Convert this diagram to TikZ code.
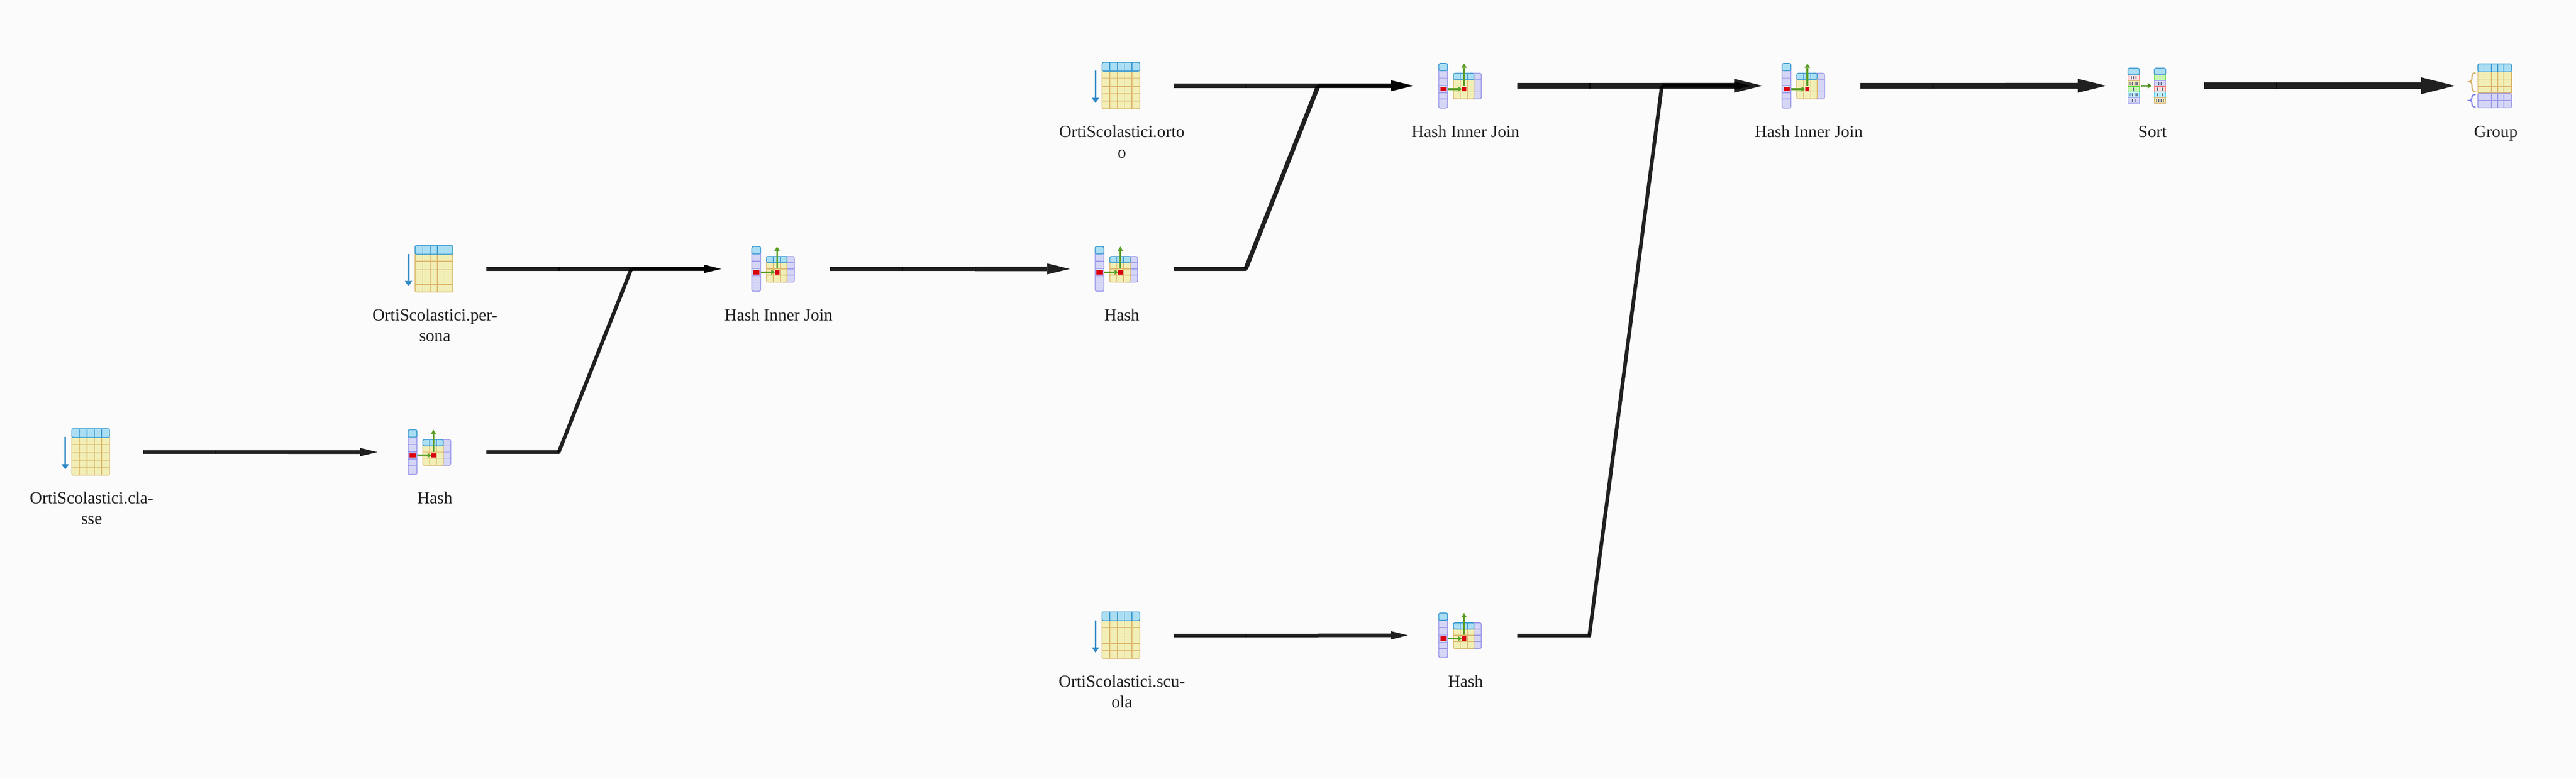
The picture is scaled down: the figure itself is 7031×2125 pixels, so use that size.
\documentclass[tikz,border=0pt]{standalone}
\usepackage{fontspec}
\setmainfont{Liberation Serif}
\usetikzlibrary{%
  arrows.meta,%
  calc,%
  positioning%
}
\definecolor{pagebg}{HTML}{FBFBFB}
\definecolor{labeltext}{HTML}{222222}
\definecolor{headF}{HTML}{ABDEF3}
\definecolor{headD}{HTML}{3C9AD0}
\definecolor{bodyF}{HTML}{F1EEB6}
\definecolor{bodyD}{HTML}{DDB76C}
\definecolor{violetF}{HTML}{D5D5F6}
\definecolor{violetD}{HTML}{9A9AEA}
\definecolor{pinkF}{HTML}{FFDCDC}
\definecolor{pinkD}{HTML}{FF6F6F}
\definecolor{sandF}{HTML}{E9DDB4}
\definecolor{sandD}{HTML}{D2AE62}
\definecolor{limeF}{HTML}{C8F5B4}
\definecolor{limeD}{HTML}{5ADC38}
\definecolor{skyF}{HTML}{BCEEFF}
\definecolor{skyD}{HTML}{36CCFF}
\definecolor{scanarrow}{HTML}{2B87C4}
\definecolor{probearrow}{HTML}{5A9E26}
\definecolor{sortarrow}{HTML}{4C8A18}
\definecolor{hashred}{HTML}{D90012}
\definecolor{barmark}{HTML}{5F6E86}
\begin{document}
\begin{tikzpicture}
  [
  x=0.2pt, y=-0.2pt,
  opnode/.style={rectangle, inner sep=0pt, minimum width=56pt, minimum height=40pt},
  oplabel/.style={anchor=base, align=center, inner sep=0pt, text=labeltext,
    font=\fontsize{9.3}{11.2}\selectfont},
  grid/.style={line width=0.45pt},
  thinflow/.style={line width=2pt, black},
  midflow/.style={line width=2.4pt, black},
  thickflow/.style={line width=3.1pt, black},
  heavyflow/.style={line width=3.7pt, black},
  thintip/.style={-{Triangle[length=9.4pt, width=4.6pt, line width=0pt]}, shorten >=3.2pt},
  midtip/.style={-{Triangle[length=12.4pt, width=6pt, line width=0pt]}, shorten >=0.2pt},
  thicktip/.style={-{Triangle[length=15.6pt, width=7.6pt, line width=0pt]}, shorten >=-3pt},
  heavytip/.style={-{Triangle[length=18.6pt, width=9.2pt, line width=0pt]}, shorten >=-6pt},
  scanicon/.pic={
    \filldraw[grid, fill=bodyF, draw=bodyD, rounded corners=0.8pt] (-54,-50) rectangle (49,63);
    \foreach \gx in {-33,-12,7,27} \draw[grid, bodyD] (\gx,-42) -- (\gx,63);
    \foreach \gy in {-21,2,22,42} \draw[grid, bodyD] (-54,\gy) -- (49,\gy);
    \filldraw[grid, fill=headF, draw=headD, rounded corners=0.8pt] (-54,-64) rectangle (49,-40);
    \foreach \gx in {-33,-12,7,27} \draw[grid, headD] (\gx,-64) -- (\gx,-40);
    \draw[line width=1pt, scanarrow, -{Triangle[length=2.8pt, width=4pt, line width=0pt]}] (-72,-41) -- (-72,47);
  },
  hashicon/.pic={
    % build column
    \filldraw[grid, fill=violetF, draw=violetD, rounded corners=0.8pt] (-73,-50) rectangle (-49,61);
    \foreach \gy in {-21,-1,19,36} \draw[grid, violetD] (-73,\gy) -- (-49,\gy);
    \filldraw[grid, fill=headF, draw=headD, rounded corners=0.8pt] (-73,-61) rectangle (-49,-41);
    % hashed table
    \filldraw[grid, fill=violetF, draw=violetD, rounded corners=0.8pt] (10,-34) rectangle (43,36);
    \foreach \gy in {-17,0,17} \draw[grid, violetD] (23,\gy) -- (43,\gy);
    \filldraw[grid, fill=bodyF, draw=bodyD, rounded corners=0.8pt] (-33,-25) rectangle (23,36);
    \foreach \gx in {-14,5} \draw[grid, bodyD] (\gx,-17) -- (\gx,36);
    \foreach \gy in {0,17} \draw[grid, bodyD] (-33,\gy) -- (23,\gy);
    \filldraw[grid, fill=headF, draw=headD, rounded corners=0.8pt] (-33,-34) rectangle (23,-17);
    \foreach \gx in {-14,5} \draw[grid, headD] (\gx,-34) -- (\gx,-17);
    % probe
    \fill[hashred] (-69,3) rectangle (-52,15);
    \fill[hashred] (-10,3) rectangle (2,15);
    \draw[line width=1pt, probearrow, -{Triangle[length=2pt, width=2.8pt, line width=0pt]}] (-48,9) -- (-10,9);
    \draw[line width=1pt, probearrow, -{Triangle[length=2.4pt, width=3pt, line width=0pt]}] (-4,-1) -- (-4,-61);
  },
  sorticon/.pic={
    \foreach \colx/\rowF/\rowtop/\rowbot/\nbars in {%
      -51.5/pink/-30/-14/3, -51.5/sand/-14/2/4, -51.5/lime/2/17/1, -51.5/sky/17/32/4, -51.5/violet/32/48/2,%
      20.5/lime/-30/-14/1, 20.5/violet/-14/2/2, 20.5/pink/2/17/3, 20.5/sky/17/32/3, 20.5/sand/32/48/4} {
      \filldraw[grid, fill=\rowF F, draw=\rowF D] ({\colx-15.5},\rowtop) rectangle ({\colx+15.5},\rowbot);
      \foreach \b in {1,...,\nbars}
        \fill[barmark] ({\colx+(\b-(\nbars+1)/2)*6.5-1.2},{(\rowtop+\rowbot)/2-4.5}) rectangle +(2.4,9);
    }
    \foreach \colx in {-51.5,20.5}
      \filldraw[grid, fill=headF, draw=headD, rounded corners=0.8pt] ({\colx-15.5},-48) rectangle ({\colx+15.5},-30);
    \draw[line width=1pt, sortarrow, -{Triangle[length=2.2pt, width=3pt, line width=0pt]}] (-31,0) -- (-2,0);
  },
  groupicon/.pic={
    \filldraw[grid, fill=bodyF, draw=bodyD] (-49,-38) rectangle (43,19);
    \foreach \gx in {-29,-12,5,22} \draw[grid, bodyD] (\gx,-38) -- (\gx,21);
    \foreach \gy in {-18,2} \draw[grid, bodyD] (-49,\gy) -- (43,\gy);
    \filldraw[grid, fill=violetF, draw=violetD, rounded corners=0.8pt] (-49,21) rectangle (43,60);
    \foreach \gx in {-29,-12,5,22} \draw[grid, violetD] (\gx,21) -- (\gx,60);
    \draw[grid, violetD] (-49,40) -- (43,40);
    \filldraw[grid, fill=headF, draw=headD, rounded corners=0.8pt] (-49,-60) rectangle (43,-38);
    \foreach \gx in {-29,-12,5,22} \draw[grid, headD] (\gx,-60) -- (\gx,-38);
    \draw[line width=0.7pt, sandD, line cap=round]
      (-56,-35) .. controls (-64,-35) and (-65,-29) .. (-65,-22)
      .. controls (-65,-15) and (-67,-11) .. (-72,-11)
      .. controls (-67,-11) and (-65,-7) .. (-65,0)
      .. controls (-65,9) and (-64,16) .. (-56,16);
    \draw[line width=0.7pt, violetD!85!blue, line cap=round]
      (-56,24) .. controls (-62,24) and (-65,27) .. (-65,31)
      .. controls (-65,36) and (-67,40) .. (-72,40)
      .. controls (-67,40) and (-65,44) .. (-65,49)
      .. controls (-65,54) and (-62,58) .. (-56,58);
  },
  ]

  \fill[pagebg] (0,0) rectangle (7031,2125);

  \node[opnode] (classe) at (250,1234) {};
  \pic at (classe) {scanicon};
  \node[oplabel] (classetext) at (250,1431) {OrtiScolastici.cla-\\sse};

  \node[opnode] (hashclasse) at (1187,1234) {};
  \pic at (hashclasse) {hashicon};
  \node[oplabel] (hashclassetext) at (1187,1375) {Hash};

  \node[opnode] (persona) at (1187,734) {};
  \pic at (persona) {scanicon};
  \node[oplabel] (personatext) at (1187,931) {OrtiScolastici.per-\\sona};

  \node[opnode] (joinpersona) at (2125,734) {};
  \pic at (joinpersona) {hashicon};
  \node[oplabel] (joinpersonatext) at (2125,875) {Hash Inner Join};

  \node[opnode] (hashjoin) at (3062,734) {};
  \pic at (hashjoin) {hashicon};
  \node[oplabel] (hashjointext) at (3062,875) {Hash};

  \node[opnode] (orto) at (3062,234) {};
  \pic at (orto) {scanicon};
  \node[oplabel] (ortotext) at (3062,431) {OrtiScolastici.orto\\o};

  \node[opnode] (joinorto) at (4000,234) {};
  \pic at (joinorto) {hashicon};
  \node[oplabel] (joinortotext) at (4000,375) {Hash Inner Join};

  \node[opnode] (scuola) at (3062,1734) {};
  \pic at (scuola) {scanicon};
  \node[oplabel] (scuolatext) at (3062,1931) {OrtiScolastici.scu-\\ola};

  \node[opnode] (hashscuola) at (4000,1734) {};
  \pic at (hashscuola) {hashicon};
  \node[oplabel] (hashscuolatext) at (4000,1875) {Hash};

  \node[opnode] (joinscuola) at (4937,234) {};
  \pic at (joinscuola) {hashicon};
  \node[oplabel] (joinscuolatext) at (4937,375) {Hash Inner Join};

  \node[opnode] (sort) at (5875,234) {};
  \pic at (sort) {sorticon};
  \node[oplabel] (sorttext) at (5875,375) {Sort};

  \node[opnode] (group) at (6812,234) {};
  \pic at (group) {groupicon};
  \node[oplabel] (grouptext) at (6812,375) {Group};

  % each flow is three pieces: out, across, in
  \foreach \flow/\tip/\from/\to in {%
    thinflow/thintip/classe/hashclasse,%
    thinflow/thintip/persona/joinpersona,%
    thinflow/thintip/hashclasse/joinpersona,%
    midflow/midtip/joinpersona/hashjoin,%
    midflow/midtip/orto/joinorto,%
    midflow/midtip/hashjoin/joinorto,%
    thinflow/thintip/scuola/hashscuola,%
    thinflow/thintip/hashscuola/joinscuola,%
    thickflow/thicktip/joinorto/joinscuola,%
    thickflow/thicktip/joinscuola/sort,%
    heavyflow/heavytip/sort/group%
  } {
    \coordinate (p) at ($(\from.east)+(197,0)$);
    \coordinate (q) at ($(\from.east)+(395,0)$);
    \coordinate (r) at (q |- \to);
    \draw[\flow, opacity=0.87, shorten >=-0.5pt] (\from.east) -- (p);
    \draw[\flow, opacity=0.87] (p) -- (r);
    \begin{scope}[transparency group, opacity=0.87]
      \draw[\flow, \tip] (r) -- (\to.west);
    \end{scope}
  }

\end{tikzpicture}
\end{document}
